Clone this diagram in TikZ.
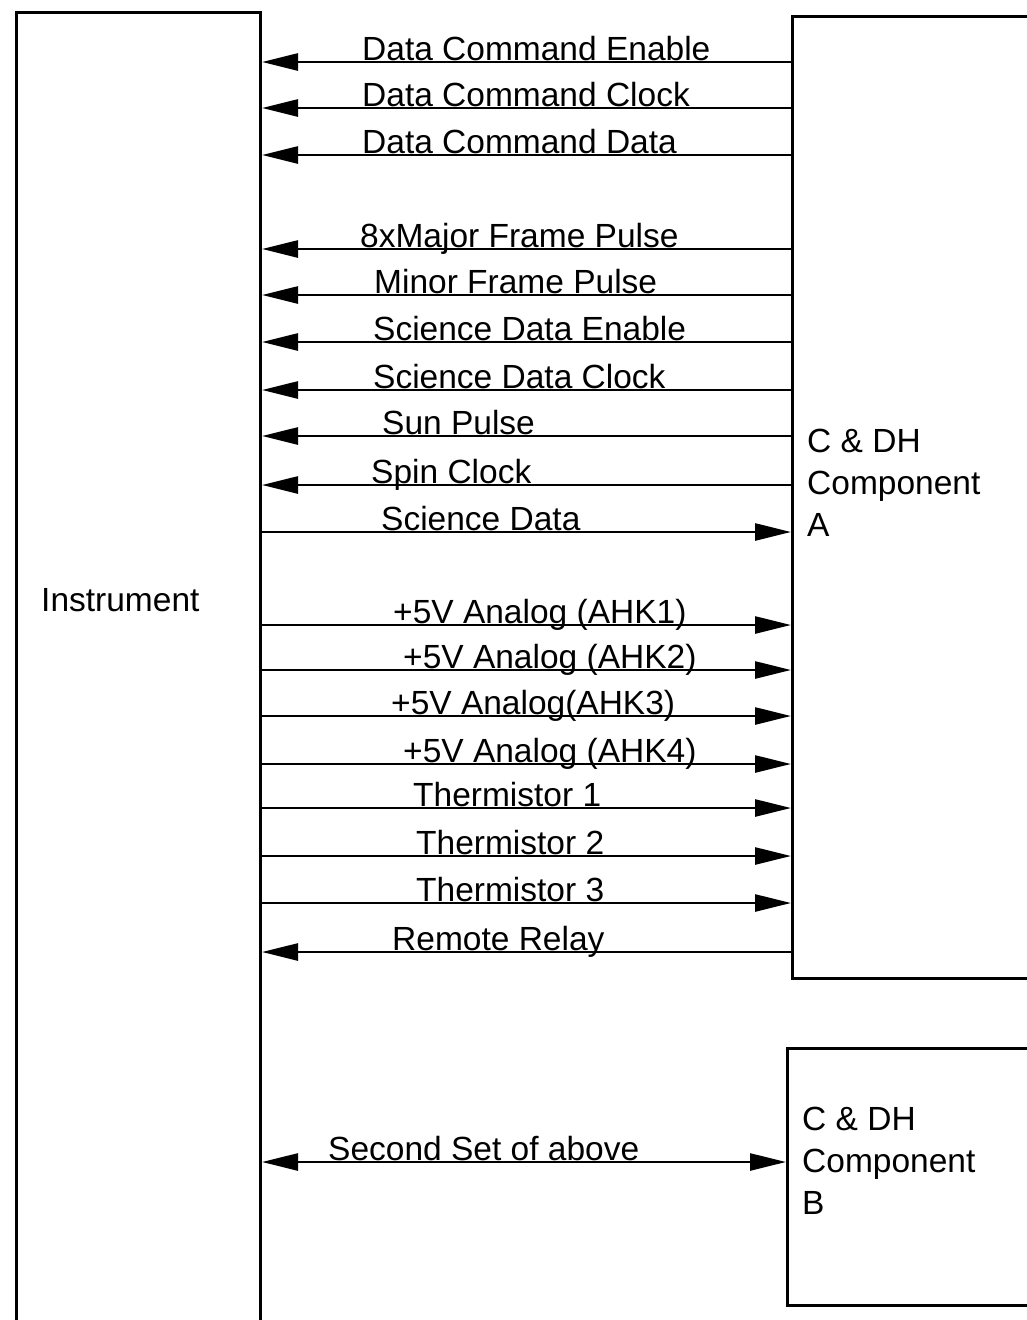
\documentclass[tikz,border=0pt]{standalone}
\usepackage{fontspec}
\setmainfont{Liberation Sans}
\usetikzlibrary{arrows.meta}
\begin{document}
\begin{tikzpicture}[x=1pt,y=-1pt,
  boxst/.style={draw,line width=3pt,inner sep=0pt,anchor=north west},
  sig/.style={line width=2.6pt,>={Triangle[length=36pt,width=17pt]}},
  lbl/.style={anchor=base west,inner sep=0pt,font=\fontsize{33.5}{40}\selectfont},
  btxt/.style={anchor=west,inner sep=0pt,align=left,font=\fontsize{33.5}{42}\selectfont}]
\useasboundingbox (0,0) rectangle (1026,1320);
% boxes
\node[boxst,minimum width=244pt,minimum height=1360pt] (inst) at (15,11) {};
\node[boxst,minimum width=260pt,minimum height=962pt] (ca) at (791,15) {};
\node[boxst,minimum width=260pt,minimum height=257pt] (cb) at (786,1047) {};
\node[btxt] (itxt) at (41,600) {Instrument};
\node[btxt] (atxt) at (807,483) {C \& DH\\Component\\A};
\node[btxt] (btx) at (802,1161) {C \& DH\\Component\\B};
% rows
\foreach \n/\y in {1/62,2/108,3/155,4/249,5/295,6/342,7/390,8/436,9/485,10/532,11/625,12/670,13/716,14/764,15/808,16/856,17/903,18/952,19/1162}
  \coordinate (r\n) at (0,\y);
\draw[sig,<-] (inst.east |- r1) -- (ca.west |- r1);
\draw[sig,<-] (inst.east |- r2) -- (ca.west |- r2);
\draw[sig,<-] (inst.east |- r3) -- (ca.west |- r3);
\draw[sig,<-] (inst.east |- r4) -- (ca.west |- r4);
\draw[sig,<-] (inst.east |- r5) -- (ca.west |- r5);
\draw[sig,<-] (inst.east |- r6) -- (ca.west |- r6);
\draw[sig,<-] (inst.east |- r7) -- (ca.west |- r7);
\draw[sig,<-] (inst.east |- r8) -- (ca.west |- r8);
\draw[sig,<-] (inst.east |- r9) -- (ca.west |- r9);
\draw[sig,->] (inst.east |- r10) -- (ca.west |- r10);
\draw[sig,->] (inst.east |- r11) -- (ca.west |- r11);
\draw[sig,->] (inst.east |- r12) -- (ca.west |- r12);
\draw[sig,->] (inst.east |- r13) -- (ca.west |- r13);
\draw[sig,->] (inst.east |- r14) -- (ca.west |- r14);
\draw[sig,->] (inst.east |- r15) -- (ca.west |- r15);
\draw[sig,->] (inst.east |- r16) -- (ca.west |- r16);
\draw[sig,->] (inst.east |- r17) -- (ca.west |- r17);
\draw[sig,<-] (inst.east |- r18) -- (ca.west |- r18);
\draw[sig,<->] (inst.east |- r19) -- (cb.west |- r19);
% labels
\node[lbl] (l1) at (362,60) {Data Command Enable};
\node[lbl] (l2) at (362,106) {Data Command Clock};
\node[lbl] (l3) at (362,153) {Data Command Data};
\node[lbl] (l4) at (360,247) {8xMajor Frame Pulse};
\node[lbl] (l5) at (374,293) {Minor Frame Pulse};
\node[lbl] (l6) at (373,340) {Science Data Enable};
\node[lbl] (l7) at (373,388) {Science Data Clock};
\node[lbl] (l8) at (382,434) {Sun Pulse};
\node[lbl] (l9) at (371,483) {Spin Clock};
\node[lbl] (l10) at (381,530) {Science Data};
\node[lbl] (l11) at (393,623) {+5V Analog (AHK1)};
\node[lbl] (l12) at (403,668) {+5V Analog (AHK2)};
\node[lbl] (l13) at (391,714) {+5V Analog(AHK3)};
\node[lbl] (l14) at (403,762) {+5V Analog (AHK4)};
\node[lbl] (l15) at (413,806) {Thermistor 1};
\node[lbl] (l16) at (416,854) {Thermistor 2};
\node[lbl] (l17) at (416,901) {Thermistor 3};
\node[lbl] (l18) at (392,950) {Remote Relay};
\node[lbl] (l19) at (328,1160) {Second Set of above};
\end{tikzpicture}
\end{document}
